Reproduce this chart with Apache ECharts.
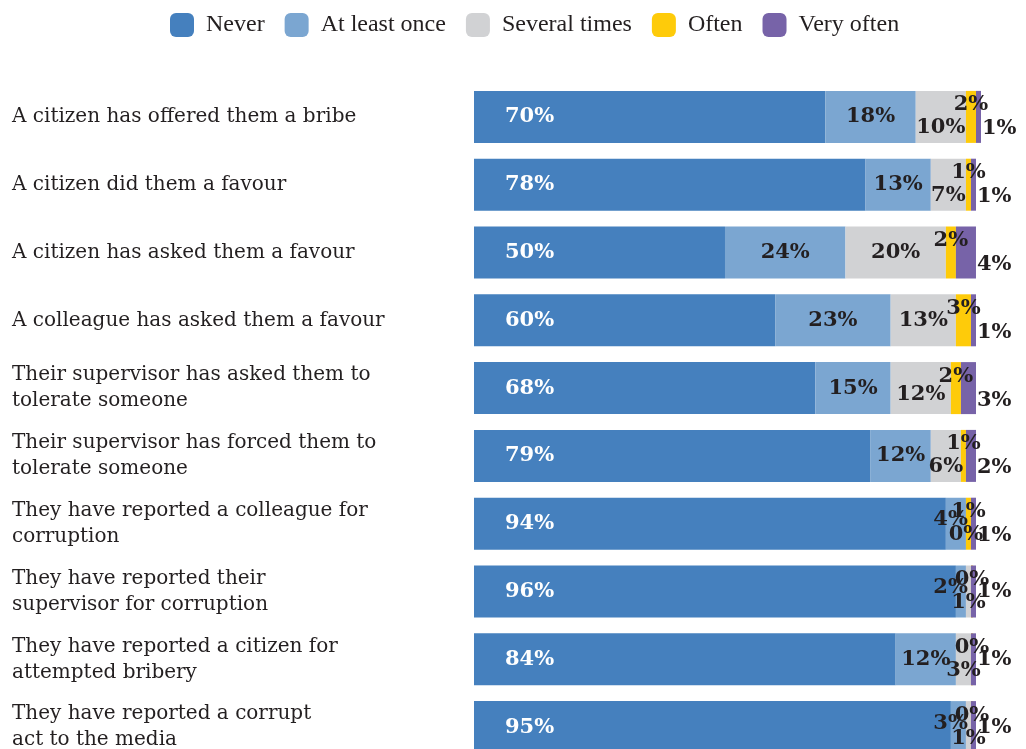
<!DOCTYPE html>
<html>
<head>
<meta charset="utf-8">
<script src="https://cdn.jsdelivr.net/npm/echarts@6/dist/echarts.min.js"></script>
<style>
  html, body { margin: 0; padding: 0; background: #fff; overflow: hidden; }
  /* the last row runs past the bottom edge of the window, so the canvas is taller than the view */
  #chart { width: 1026px; height: 800px; }
</style>
</head>
<body>
<div id="chart"></div>
<script>
// Survey rows: how often officials report each situation
const categories = [
  'A citizen has offered them a bribe',
  'A citizen did them a favour',
  'A citizen has asked them a favour',
  'A colleague has asked them a favour',
  'Their supervisor has asked them to\ntolerate someone',
  'Their supervisor has forced them to\ntolerate someone',
  'They have reported a colleague for\ncorruption',
  'They have reported their\nsupervisor for corruption',
  'They have reported a citizen for\nattempted bribery',
  'They have reported a corrupt\nact to the media'
];
const seriesNames = ['Never', 'At least once', 'Several times', 'Often', 'Very often'];

// Percentages per row
const never        = [70, 78, 50, 60, 68, 79, 94, 96, 84, 95];
const atLeastOnce  = [18, 13, 24, 23, 15, 12, 4, 2, 12, 3];
const severalTimes = [10, 7, 20, 13, 12, 6, 0, 1, 3, 1];
const often        = [2, 1, 2, 3, 2, 1, 1, 0, 0, 0];
const veryOften    = [1, 1, 4, 1, 3, 2, 1, 1, 1, 1];

const values = [never, atLeastOnce, severalTimes, often, veryOften];
const colors = ['#4580be', '#7ba6d1', '#d1d2d4', '#fecb0a', '#7763a8'];

const DARK = '#231f20';

// Label placement: small segments get their labels nudged up/down so they don't collide
function labelFor(s, i, v) {
  const base = {
    show: true,
    formatter: '{c}%',
    fontFamily: 'DejaVu Serif',
    fontWeight: 'bold',
    fontSize: 21,
    color: DARK
  };
  switch (s) {
    case 0:
      return Object.assign(base, { position: 'insideLeft', distance: 31, color: '#fff' });
    case 1:
      return v >= 10
        ? Object.assign(base, { position: 'inside' })
        : Object.assign(base, { position: 'insideRight', distance: -2, offset: [0, -4] });
    case 2:
      return Object.assign(base, { position: 'inside', offset: [0, v < 12 ? 11 : (v < 13 ? 6 : 0)] });
    case 3:
      return Object.assign(base, { position: 'inside', offset: [0, -12] });
    default:
      return Object.assign(base, { position: 'right', distance: 1, offset: [0, often[i] === 0 ? 0 : 12] });
  }
}

const series = seriesNames.map((name, s) => ({
  name,
  type: 'bar',
  stack: 'total',
  barWidth: 52,
  clip: false,
  barMinHeight: s === 3 ? 2 : 0,
  itemStyle: { color: colors[s] },
  emphasis: { disabled: true },
  data: values[s].map((v, i) => ({ value: v, label: labelFor(s, i, v) }))
}));

const chart = echarts.init(document.getElementById('chart'), null, { renderer: 'canvas' });
chart.setOption({
  animation: false,
  backgroundColor: '#fff',
  color: colors,
  legend: {
    left: 165,
    top: 8,
    icon: 'roundRect',
    itemWidth: 24,
    itemHeight: 24,
    itemGap: 20,
    data: seriesNames,
    textStyle: {
      fontFamily: 'Liberation Serif',
      fontSize: 24,
      color: DARK,
      padding: [0, 0, 0, 7]
    }
  },
  grid: { left: 474, top: 83, width: 507, height: 678, containLabel: false },
  xAxis: {
    type: 'value',
    min: 0,
    max: 101,
    show: false
  },
  yAxis: {
    type: 'category',
    inverse: true,
    data: categories,
    axisLine: { show: false },
    axisTick: { show: false },
    splitLine: { show: false },
    axisLabel: {
      margin: 462,
      align: 'left',
      fontFamily: 'DejaVu Serif',
      fontSize: 20,
      lineHeight: 26,
      color: DARK
    }
  },
  series
});
</script>
</body>
</html>
